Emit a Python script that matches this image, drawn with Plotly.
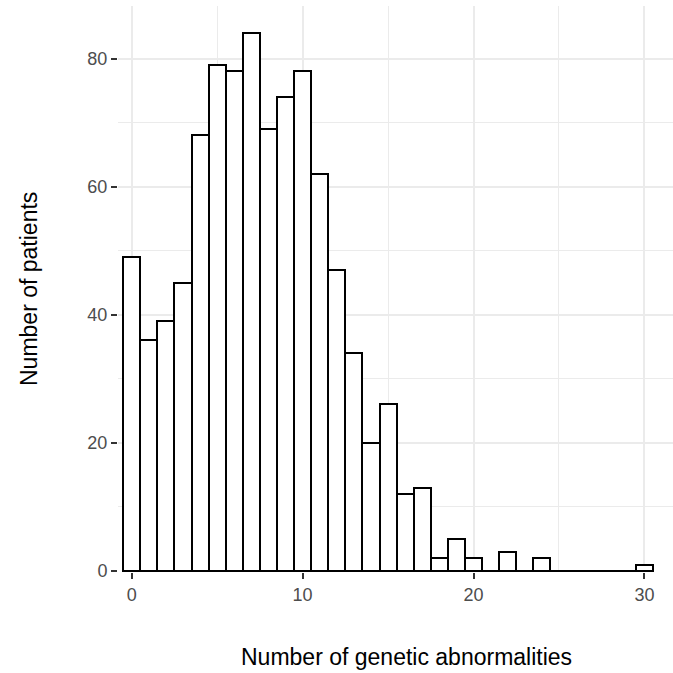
import plotly.graph_objects as go

# Data: number of genetic abnormalities (bin centres) and patient counts
abnormalities = list(range(0, 31))
patients = [49, 36, 39, 45, 68, 79, 78, 84, 69, 74, 78, 62, 47, 34, 20, 26,
            12, 13, 2, 5, 2, 0, 3, 0, 2, 0, 0, 0, 0, 0, 1]
x_ticks = [0, 10, 20, 30]
y_ticks = [0, 20, 40, 60, 80]

GRID = "#EBEBEB"
TICKTXT = "#4D4D4D"
FONT = "Liberation Sans, Arial, sans-serif"

fig = go.Figure()

# baseline outline for zero-height bins (as ggplot draws)
fig.add_trace(go.Scatter(
    x=[abnormalities[0] - 0.5, abnormalities[-1] + 0.5], y=[0, 0],
    mode="lines", line=dict(color="black", width=2),
    hoverinfo="skip", showlegend=False))

fig.add_trace(go.Bar(
    x=abnormalities, y=patients, width=1,
    marker=dict(color="white", line=dict(color="black", width=2)),
    showlegend=False))

fig.update_layout(
    width=673, height=673,
    margin=dict(l=118, r=0, t=6, b=101),
    paper_bgcolor="white", plot_bgcolor="white",
    font=dict(family=FONT),
    bargap=0,
    xaxis=dict(
        range=[-0.8, 31.67], tickvals=x_ticks, ticks="outside", ticklen=6,
        tickwidth=2, tickcolor="#333333", showline=False, zeroline=False,
        showgrid=True, gridcolor=GRID, gridwidth=1.5,
        tickfont=dict(size=18, color=TICKTXT, family=FONT),
        minor=dict(dtick=5, tick0=0, showgrid=True, gridcolor=GRID, gridwidth=0.8),
    ),
    yaxis=dict(
        range=[-0.15, 88.2], tickvals=y_ticks, ticks="outside", ticklen=6,
        tickwidth=2, tickcolor="#333333", showline=False, zeroline=False,
        showgrid=True, gridcolor=GRID, gridwidth=1.5,
        tickfont=dict(size=18, color=TICKTXT, family=FONT),
        minor=dict(dtick=10, tick0=0, showgrid=True, gridcolor=GRID, gridwidth=0.8),
    ),
    annotations=[
        dict(text="Number of genetic abnormalities", xref="paper", yref="paper",
             x=(406 - 118) / 555, y=-(656 - 571.5) / 565.8, xanchor="center", yanchor="middle",
             showarrow=False, font=dict(size=23, color="black", family=FONT)),
        dict(text="Number of patients", xref="paper", yref="paper",
             x=-(118 - 29) / 555, y=0.5, xanchor="center", yanchor="middle",
             textangle=-90, showarrow=False,
             font=dict(size=23, color="black", family=FONT)),
    ],
)

fig.write_html("out.html")
